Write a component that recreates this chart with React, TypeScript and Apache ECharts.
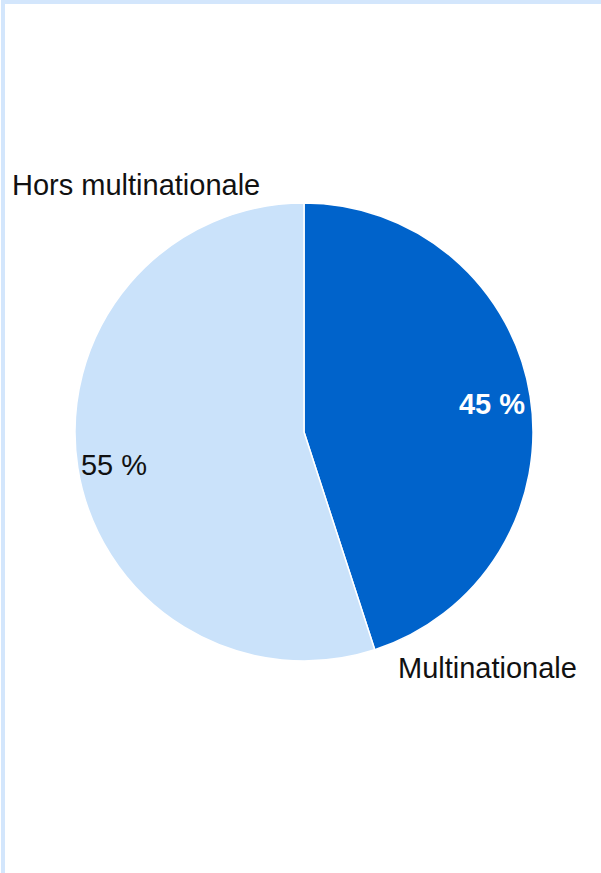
import React, { useEffect, useRef } from "react";
import * as echarts from "echarts";

const categories = ["Multinationale", "Hors multinationale"];
const values = [45, 55];
const colors = ["#0063cb", "#cae2fa"];

export default function App() {
  const ref = useRef<HTMLDivElement>(null);
  useEffect(() => {
    if (!ref.current) return;
    const chart = echarts.init(ref.current, null, { renderer: "svg" });
    const font = "'Liberation Sans', Arial, sans-serif";
    chart.setOption({
      animation: false,
      backgroundColor: "transparent",
      series: [
        {
          type: "pie",
          z: 1,
          center: [304, 432],
          radius: [0, 229],
          startAngle: 90,
          clockwise: true,
          label: { show: false },
          labelLine: { show: false },
          emphasis: { disabled: true },
          itemStyle: { borderColor: "#ffffff", borderWidth: 1.5 },
          data: categories.map((c, i) => ({
            name: c,
            value: values[i],
            itemStyle: { color: colors[i] },
          })),
        },
      ],
      graphic: {
        elements: [
          {
            type: "text",
            z: 100,
            left: 12,
            top: 170,
            style: { text: categories[1], font: `29px ${font}`, fill: "#111111" },
          },
          {
            type: "text",
            z: 100,
            left: 398,
            top: 653,
            style: { text: categories[0], font: `29px ${font}`, fill: "#111111" },
          },
          {
            type: "text",
            z: 100,
            x: 492,
            y: 404,
            style: {
              text: `${values[0]} %`,
              font: `bold 29px ${font}`,
              fill: "#ffffff",
              align: "center",
              verticalAlign: "middle",
            },
          },
          {
            type: "text",
            z: 100,
            x: 114,
            y: 465,
            style: {
              text: `${values[1]} %`,
              font: `29px ${font}`,
              fill: "#111111",
              align: "center",
              verticalAlign: "middle",
            },
          },
        ],
      },
    });
    return () => chart.dispose();
  }, []);
  return (
    <div style={{ position: "absolute", left: 0, top: 0, width: 601, height: 873, overflow: "hidden", background: "#fff" }}>
      <div
        style={{
          position: "absolute",
          left: 1,
          top: 0,
          width: 700,
          height: 1000,
          borderLeft: "4px solid #d3e6fc",
          borderTop: "4px solid #d3e6fc",
          boxSizing: "border-box",
        }}
      />
      <div ref={ref} style={{ position: "absolute", left: 0, top: 0, width: 601, height: 873 }} />
    </div>
  );
}
